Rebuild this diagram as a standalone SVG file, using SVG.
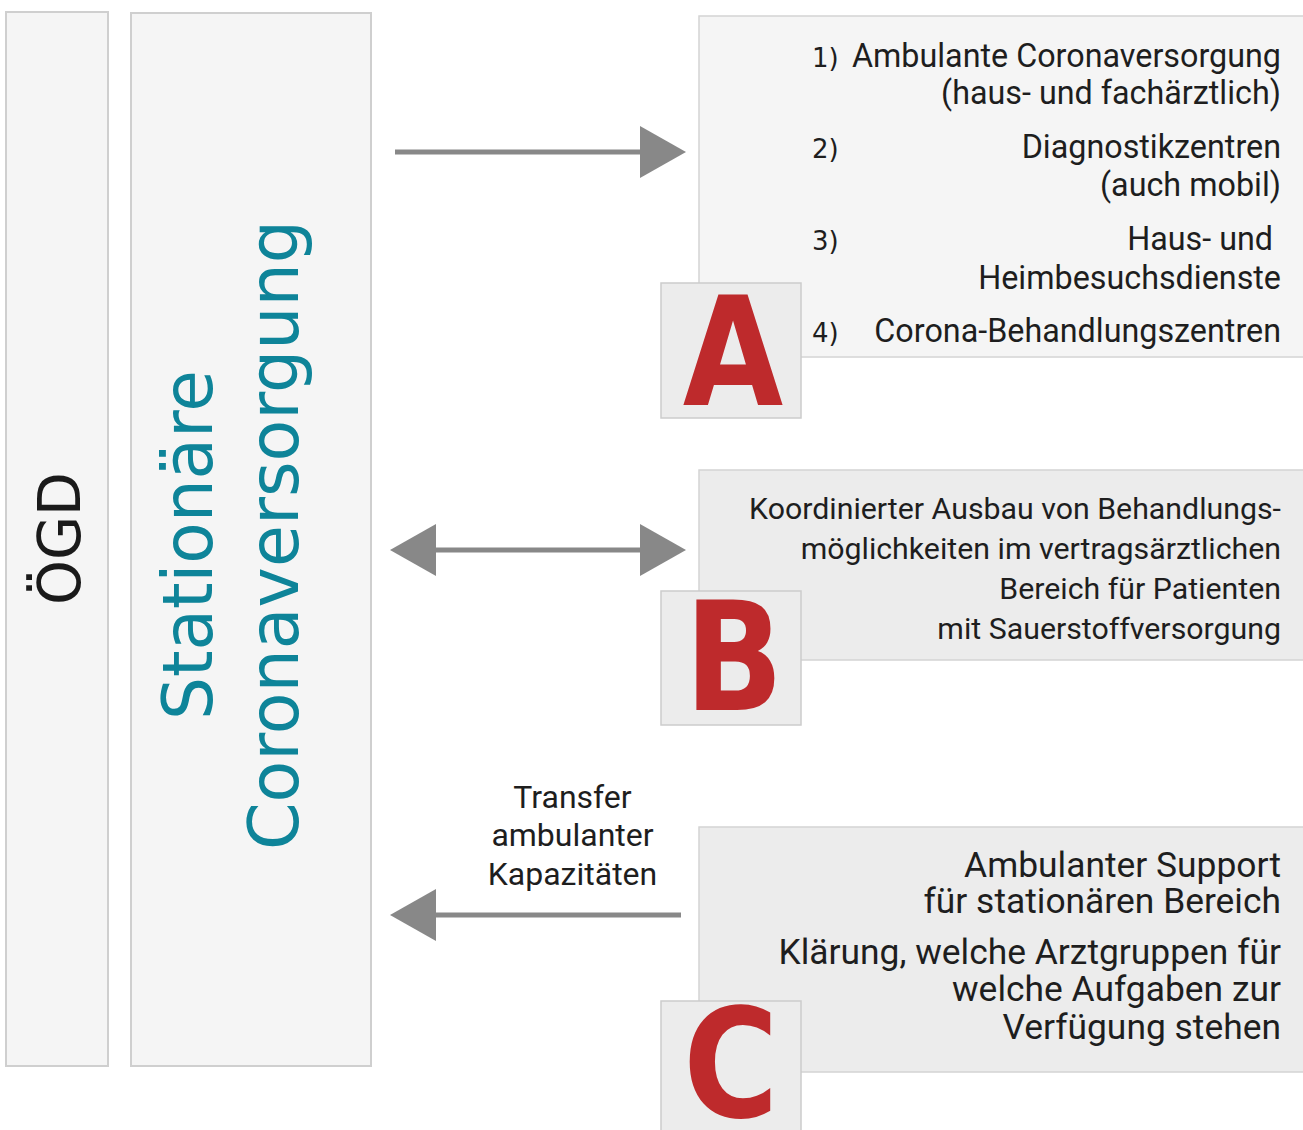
<svg xmlns="http://www.w3.org/2000/svg" width="1303" height="1130" viewBox="0 0 1303 1130">
<style>
.panel{fill:#f5f5f5;stroke:#cfcfcf;stroke-width:2}
.box{stroke:#d4d4d4;stroke-width:1.5}
.boxA{fill:#f5f5f5}
.boxB{fill:#ececec}
.tag{fill:#ececec;stroke:#cccccc;stroke-width:1.5}
.t{font-family:Roboto,"Liberation Sans",sans-serif;fill:#1e1e1e}
.num{font-family:"DejaVu Sans",sans-serif;font-size:26px;fill:#1e1e1e}
.big{font-family:"DejaVu Sans",sans-serif;font-weight:bold;font-size:151px;fill:#be2a2c;text-anchor:middle}
.vert{font-family:"DejaVu Sans",sans-serif;text-anchor:middle}
.conn{stroke:#888888;stroke-width:5;fill:none}
</style>
<defs>
<marker id="ah" markerUnits="userSpaceOnUse" markerWidth="46" markerHeight="52" refX="36" refY="26" orient="auto-start-reverse" viewBox="0 0 46 52">
<path d="M0,0 L46,26 L0,52 Z" fill="#888888"/>
</marker>
</defs>
<rect width="1303" height="1130" fill="#ffffff"/>

<g id="oegd">
<rect class="panel" x="6" y="12" width="102" height="1054"/>
<text class="vert" transform="translate(80,538.5) rotate(-90)" font-size="59" fill="#1a1a1a" textLength="133" lengthAdjust="spacingAndGlyphs">ÖGD</text>
</g>

<g id="stationaer">
<rect class="panel" x="131" y="13" width="240" height="1053"/>
<text class="vert" transform="translate(212,545) rotate(-90)" font-size="70" fill="#0e8499" textLength="350" lengthAdjust="spacingAndGlyphs">Stationäre</text>
<text class="vert" transform="translate(298,535) rotate(-90)" font-size="70" fill="#0e8499" textLength="630" lengthAdjust="spacingAndGlyphs">Coronaversorgung</text>
</g>

<g id="nodeA">
<rect class="box boxA" x="699" y="16" width="610" height="341"/>
<text class="num" x="812" y="67">1)</text>
<text class="num" x="812" y="158">2)</text>
<text class="num" x="812" y="250">3)</text>
<text class="num" x="812" y="342">4)</text>
<g class="t" font-size="32.3" text-anchor="end">
<text x="1281" y="67">Ambulante Coronaversorgung</text>
<text x="1281" y="104">(haus- und fachärztlich)</text>
<text x="1281" y="158">Diagnostikzentren</text>
<text x="1281" y="196">(auch mobil)</text>
<text x="1273" y="250">Haus- und</text>
<text x="1281" y="289">Heimbesuchsdienste</text>
<text x="1281" y="342">Corona-Behandlungszentren</text>
</g>
<rect class="tag" x="661" y="283" width="140" height="135"/>
<text class="big" transform="translate(733,405) scale(0.86,1)">A</text>
</g>

<g id="nodeB">
<rect class="box boxB" x="699" y="470" width="610" height="190"/>
<g class="t" font-size="30.3" text-anchor="end">
<text x="1281" y="519">Koordinierter Ausbau von Behandlungs-</text>
<text x="1281" y="559">möglichkeiten im vertragsärztlichen</text>
<text x="1281" y="599">Bereich für Patienten</text>
<text x="1281" y="639">mit Sauerstoffversorgung</text>
</g>
<rect class="tag" x="661" y="591" width="140" height="134"/>
<text class="big" transform="translate(734,710) scale(0.86,1)">B</text>
</g>

<g id="nodeC">
<rect class="box boxB" x="699" y="827" width="610" height="245"/>
<g class="t" font-size="35.4" text-anchor="end">
<text x="1281" y="877">Ambulanter Support</text>
<text x="1281" y="913">für stationären Bereich</text>
<text x="1281" y="964">Klärung, welche Arztgruppen für</text>
<text x="1281" y="1001">welche Aufgaben zur</text>
<text x="1281" y="1039">Verfügung stehen</text>
</g>
<rect class="tag" x="661" y="1001" width="140" height="135"/>
<text class="big" transform="translate(731,1117) scale(0.86,1)">C</text>
</g>

<g id="connectors">
<line class="conn" x1="395" y1="152" x2="676" y2="152" marker-end="url(#ah)"/>
<line class="conn" x1="400" y1="550" x2="676" y2="550" marker-start="url(#ah)" marker-end="url(#ah)"/>
<line class="conn" x1="681" y1="915" x2="400" y2="915" marker-end="url(#ah)"/>
<g class="t" font-size="32" text-anchor="middle">
<text x="572.5" y="808">Transfer</text>
<text x="572.5" y="846">ambulanter</text>
<text x="572.5" y="885">Kapazitäten</text>
</g>
</g>
</svg>
